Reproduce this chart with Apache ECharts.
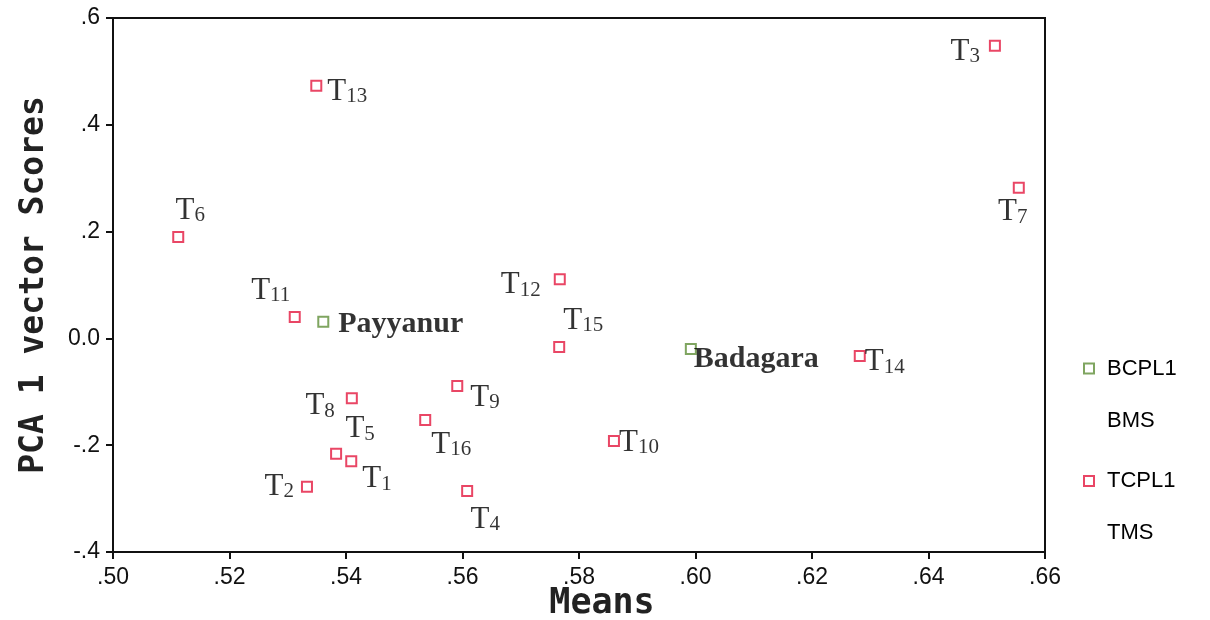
<!DOCTYPE html>
<html>
<head>
<meta charset="utf-8">
<script src="https://cdn.jsdelivr.net/npm/echarts@6/dist/echarts.min.js"></script>
<style>
  html, body { margin: 0; padding: 0; background: #fff; }
  #main { width: 1210px; height: 620px; }
</style>
</head>
<body>
<div id="main"></div>
<script>
// treatments (TCPL1 / TMS): subscript number, mean, PCA 1 score
var tNums = ['1', '2', '3', '4', '5', '6', '7', '8', '9', '10', '11', '12', '13', '14', '15', '16'];
var tMeans = [0.5409, 0.5333, 0.6514, 0.5608, 0.5383, 0.5112, 0.6555, 0.5410, 0.5591, 0.5860, 0.5312, 0.5767, 0.5349, 0.6282, 0.5766, 0.5536];
var tScores = [-0.230, -0.278, 0.548, -0.286, -0.216, 0.190, 0.282, -0.112, -0.089, -0.192, 0.040, 0.111, 0.473, -0.033, -0.016, -0.153];

// locations (BCPL1 / BMS)
var bNames = ['Payyanur', 'Badagara'];
var bMeans = [0.5361, 0.5992];
var bScores = [0.031, -0.020];

var xTickLabels = ['.50', '.52', '.54', '.56', '.58', '.60', '.62', '.64', '.66'];
var yTickLabels = ['-.4', '-.2', '0.0', '.2', '.4', '.6'];

// where each text sits next to its marker
var tPlace = {
  '1': ['right', [0, 18]], '2': ['left', [-2, 0]], '3': ['left', [-4, 6]], '4': ['bottom', [18, 2]],
  '5': ['top', [24, 2]], '6': ['top', [12, 0]], '7': ['bottom', [-6, -2]], '8': ['left', [-6, 8]],
  '9': ['right', [2, 12]], '10': ['right', [-6, 2]], '11': ['top', [-24, 0]], '12': ['left', [-8, 6]],
  '13': ['right', [0, 6]], '14': ['right', [-6, 6]], '15': ['top', [24, 0]], '16': ['bottom', [26, -2]]
};
var bPlace = {'Payyanur': ['right', [4, 2]], 'Badagara': ['right', [-8, 10]]};

var RED = '#e3183f';
var GREEN = '#5f8f38';

var chart = echarts.init(document.getElementById('main'), null, {renderer: 'canvas'});

var tData = tNums.map(function (n, i) {
  return {
    value: [tMeans[i], tScores[i]], name: 'T' + n,
    label: {position: tPlace[n][0], offset: tPlace[n][1], formatter: '{t|T}{s|' + n + '}'}
  };
});
var bData = bNames.map(function (n, i) {
  return {
    value: [bMeans[i], bScores[i]], name: n,
    label: {position: bPlace[n][0], offset: bPlace[n][1], formatter: '{b|' + n + '}'}
  };
});

var richText = {
  t: {fontFamily: 'Liberation Serif', fontSize: 31, color: '#000', verticalAlign: 'bottom'},
  s: {fontFamily: 'Liberation Serif', fontSize: 21, color: '#000', verticalAlign: 'bottom'},
  b: {fontFamily: 'Liberation Serif', fontSize: 30, fontWeight: 'bold', color: '#000'}
};

var legendRich = {
  e: {lineHeight: 52, fontSize: 21},
  a: {fontFamily: 'Liberation Sans', fontSize: 22, color: '#000', lineHeight: 52, padding: [0, 0, 0, 8]}
};

chart.setOption({
  backgroundColor: '#fff',
  animation: false,
  grid: {
    left: 113, right: 165, top: 18, bottom: 68, outerBoundsMode: 'none',
    show: true, borderColor: '#111', borderWidth: 2
  },
  legend: {
    orient: 'vertical', left: 1078, top: 301, itemWidth: 10, itemHeight: 10, itemGap: -13,
    data: ['BCPL1', 'TCPL1'],
    formatter: function (n) {
      return n === 'BCPL1' ? '{e| }\n{a|BCPL1}\n{a|BMS}' : '{e| }\n{a|TCPL1}\n{a|TMS}';
    },
    textStyle: {rich: legendRich}
  },
  xAxis: {
    type: 'value', min: 0.5, max: 0.66, interval: 0.02,
    name: 'Means', nameLocation: 'middle', nameGap: 34, nameMoveOverlap: false,
    nameTextStyle: {fontFamily: 'DejaVu Sans Mono', fontWeight: 'bold', fontSize: 35, color: '#222', padding: [0, 0, 0, 46]},
    axisLine: {onZero: false, lineStyle: {color: '#111', width: 2}},
    axisTick: {show: true, length: 7, lineStyle: {color: '#111', width: 2}},
    axisLabel: {
      margin: 14, fontFamily: 'Liberation Sans', fontSize: 23, color: '#111',
      formatter: function (v) { return xTickLabels[Math.round((v - 0.5) / 0.02)]; }
    },
    splitLine: {show: false}
  },
  yAxis: {
    type: 'value', min: -0.4, max: 0.6, interval: 0.2,
    name: 'PCA 1 vector Scores', nameLocation: 'middle', nameGap: 62,
    nameTextStyle: {fontFamily: 'DejaVu Sans Mono', fontWeight: 'bold', fontSize: 33, color: '#222'},
    axisLine: {onZero: false, lineStyle: {color: '#111', width: 2}},
    axisTick: {show: true, length: 7, lineStyle: {color: '#111', width: 2}},
    axisLabel: {
      margin: 13, fontFamily: 'Liberation Sans', fontSize: 23, color: '#111',
      formatter: function (v) { return yTickLabels[Math.round((v + 0.4) / 0.2)]; }
    },
    splitLine: {show: false}
  },
  series: [
    {
      name: 'BCPL1', type: 'scatter', symbol: 'rect', symbolSize: 10, data: bData,
      itemStyle: {color: '#fff', borderColor: GREEN, borderWidth: 2},
      label: {show: true, rich: richText}
    },
    {
      name: 'TCPL1', type: 'scatter', symbol: 'rect', symbolSize: 10, data: tData,
      itemStyle: {color: '#fff', borderColor: RED, borderWidth: 2},
      label: {show: true, rich: richText}
    }
  ]
});
</script>
</body>
</html>
